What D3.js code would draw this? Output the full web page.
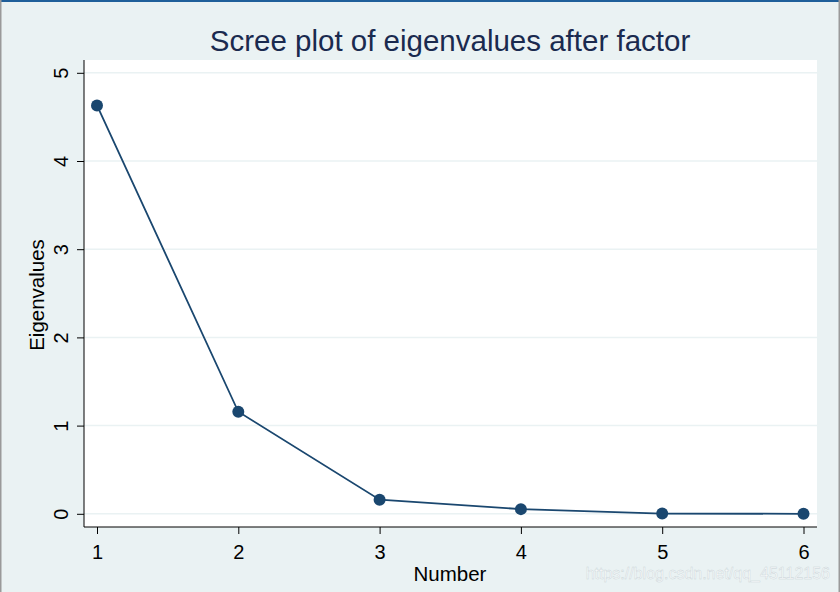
<!DOCTYPE html>
<html><head><meta charset="utf-8">
<script src="https://cdn.jsdelivr.net/npm/d3@7"></script>
<style>html,body{margin:0;padding:0;background:#eaf2f3;overflow:hidden}</style>
</head><body>
<svg id="c" width="840" height="592"></svg>
<script>
const numbers = [1, 2, 3, 4, 5, 6];
const eigenvalues = [4.63, 1.157, 0.16, 0.053, 0.003, 0.0];
const yTicks = [0, 1, 2, 3, 4, 5];
const xTicks = [1, 2, 3, 4, 5, 6];
const titleText = "Scree plot of eigenvalues after factor";
const xLabel = "Number";
const yLabel = "Eigenvalues";
const watermark = "https://blog.csdn.net/qq_45112156";

const svg = d3.select("#c");
const W = 840, H = 592;
const font = "Liberation Sans, Arial, sans-serif";
const navy = "#1a476f";

svg.append("rect").attr("width", W).attr("height", H).attr("fill", "#eaf2f3");

// plot region
const pr = {l: 84, r: 817, t: 60, b: 527};
svg.append("rect").attr("x", pr.l).attr("y", pr.t).attr("width", pr.r - pr.l).attr("height", pr.b - pr.t).attr("fill", "#ffffff");

const x = d3.scaleLinear().domain([1, 6]).range([97, 803.5]);
const y = d3.scaleLinear().domain([0, 5]).range([513.8, 72.8]);

// gridlines
svg.append("g").selectAll("line").data(yTicks).join("line")
  .attr("x1", pr.l).attr("x2", pr.r)
  .attr("y1", d => y(d)).attr("y2", d => y(d))
  .attr("stroke", "#eaf2f3").attr("stroke-width", 1.5);

// y axis
const yAxis = d3.axisLeft(y).tickValues(yTicks).tickSize(7).tickFormat(d3.format("d"));
const gy = svg.append("g").attr("transform", `translate(${pr.l},0)`).call(yAxis);
gy.select(".domain").remove();
gy.append("line").attr("x1", 0).attr("x2", 0).attr("y1", pr.t).attr("y2", pr.b).attr("stroke", "#000").attr("stroke-width", 1);
gy.selectAll(".tick line").attr("stroke", "#000");
gy.selectAll(".tick text")
  .attr("font-family", font).attr("font-size", 20).attr("fill", "#000")
  .attr("x", 0).attr("y", 0).attr("dy", "0.35em")
  .attr("text-anchor", "middle")
  .attr("transform", "translate(-23.5,0) rotate(-90)");

// x axis
const xAxis = d3.axisBottom(x).tickValues(xTicks).tickSize(7).tickPadding(11).tickFormat(d3.format("d"));
const gx = svg.append("g").attr("transform", `translate(0,${pr.b})`).call(xAxis);
gx.select(".domain").remove();
gx.append("line").attr("x1", pr.l).attr("x2", pr.r).attr("y1", 0).attr("y2", 0).attr("stroke", "#000").attr("stroke-width", 1);
gx.selectAll(".tick line").attr("stroke", "#000");
gx.selectAll(".tick text").attr("font-family", font).attr("font-size", 20).attr("fill", "#000");

// line + markers
const line = d3.line().x((d, i) => x(numbers[i])).y(d => y(d));
svg.append("path").datum(eigenvalues).attr("d", line)
  .attr("fill", "none").attr("stroke", navy).attr("stroke-width", 1.8);
svg.append("g").selectAll("circle").data(eigenvalues).join("circle")
  .attr("cx", (d, i) => x(numbers[i])).attr("cy", d => y(d)).attr("r", 6)
  .attr("fill", navy);

// title and labels
svg.append("text").attr("x", 450).attr("y", 51).attr("text-anchor", "middle")
  .attr("font-family", font).attr("font-size", 29.5).attr("fill", "#1a2a4f").text(titleText);
svg.append("text").attr("x", 450).attr("y", 581).attr("text-anchor", "middle")
  .attr("font-family", font).attr("font-size", 20.5).attr("fill", "#000").text(xLabel);
svg.append("text").attr("transform", "translate(44,295) rotate(-90)").attr("text-anchor", "middle")
  .attr("font-family", font).attr("font-size", 20.5).attr("fill", "#000").text(yLabel);

// watermark
svg.append("text").attr("x", 830).attr("y", 579).attr("text-anchor", "end")
  .attr("font-family", font).attr("font-size", 16).attr("fill", "#ffffff").attr("fill-opacity", 0.75)
  .attr("stroke", "#c8d2d6").attr("stroke-width", 0.4).text(watermark);

// window frame
svg.append("rect").attr("x", 0).attr("y", 0).attr("width", W).attr("height", 2).attr("fill", "#1f5f9a");
svg.append("rect").attr("x", 0).attr("y", 0).attr("width", 1.5).attr("height", H).attr("fill", "#9a9a9a");
svg.append("rect").attr("x", W - 1.5).attr("y", 0).attr("width", 1.5).attr("height", H).attr("fill", "#9a9a9a");
</script>
</body></html>
